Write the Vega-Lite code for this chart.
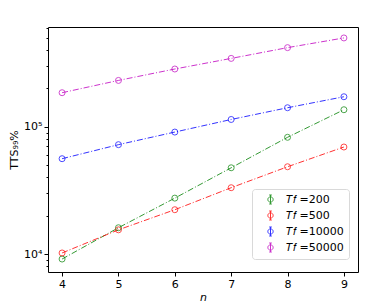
{
  "$schema": "https://vega.github.io/schema/vega-lite/v6.json",
  "width": 310,
  "height": 245,
  "autosize": {"type": "none"},
  "padding": {"left": 48, "top": 27, "right": 25, "bottom": 32},
  "background": "white",
  "config": {
    "font": "DejaVu Sans",
    "view": {"stroke": "#000", "strokeWidth": 1},
    "axis": {"domain": false, "grid": false, "tickColor": "#000", "labelColor": "#000", "titleColor": "#000", "labelFontSize": 11, "titleFontSize": 11, "titleFontWeight": "normal"}
  },
  "data": {
    "values": [
      {"n": 4, "Tf": 200, "tts": 9140}, {"n": 5, "Tf": 200, "tts": 16100}, {"n": 6, "Tf": 200, "tts": 27500}, {"n": 7, "Tf": 200, "tts": 47600}, {"n": 8, "Tf": 200, "tts": 82600}, {"n": 9, "Tf": 200, "tts": 136000},
      {"n": 4, "Tf": 500, "tts": 10200}, {"n": 5, "Tf": 500, "tts": 15500}, {"n": 6, "Tf": 500, "tts": 22300}, {"n": 7, "Tf": 500, "tts": 33200}, {"n": 8, "Tf": 500, "tts": 48500}, {"n": 9, "Tf": 500, "tts": 69300},
      {"n": 4, "Tf": 10000, "tts": 56100}, {"n": 5, "Tf": 10000, "tts": 72300}, {"n": 6, "Tf": 10000, "tts": 90800}, {"n": 7, "Tf": 10000, "tts": 114000}, {"n": 8, "Tf": 10000, "tts": 141000}, {"n": 9, "Tf": 10000, "tts": 172000},
      {"n": 4, "Tf": 50000, "tts": 185000}, {"n": 5, "Tf": 50000, "tts": 231000}, {"n": 6, "Tf": 50000, "tts": 284000}, {"n": 7, "Tf": 50000, "tts": 344000}, {"n": 8, "Tf": 50000, "tts": 418000}, {"n": 9, "Tf": 50000, "tts": 498000}
    ]
  },
  "encoding": {
    "x": {"field": "n", "type": "quantitative", "scale": {"domain": [3.75, 9.25], "nice": false, "zero": false},
      "axis": {"values": [4, 5, 6, 7, 8, 9], "tickSize": 4, "labelPadding": 2, "title": "n", "titleFontStyle": "italic", "titlePadding": 2}},
    "y": {"field": "tts", "type": "quantitative", "scale": {"type": "log", "domain": [7230, 607000], "nice": false},
      "axis": {"values": [8000, 9000, 10000, 20000, 30000, 40000, 50000, 60000, 70000, 80000, 90000, 100000, 200000, 300000, 400000, 500000, 600000],
        "labelExpr": "datum.value == 10000 ? '10⁴' : datum.value == 100000 ? '10⁵' : ''",
        "tickSize": {"condition": {"test": "datum.value == 10000 || datum.value == 100000", "value": 4}, "value": 2},
        "labelPadding": 2, "title": "TTS₉₉%", "titlePadding": 4}},
    "color": {"field": "Tf", "type": "nominal",
      "scale": {"domain": [200, 500, 10000, 50000], "range": ["#008000", "#ff0000", "#0000ff", "#bf00bf"]},
      "legend": {"orient": "none", "legendX": 204, "legendY": 162, "title": null,
        "labelExpr": "'𝑇𝑓 =' + datum.label", "labelFontSize": 11, "labelColor": "#000", "labelLimit": 200,
        "symbolType": "M-1,0 A1,1 0 1,1 1,0 A1,1 0 1,1 -1,0 M0,-1.7 L0,1.7 M-0.5,-1.7 L0.5,-1.7 M-0.5,1.7 L0.5,1.7",
        "symbolFillColor": "transparent", "symbolStrokeWidth": 1, "symbolSize": 28, "symbolOffset": 8,
        "labelOffset": 10, "rowPadding": 3, "padding": 5, "strokeColor": "#d9d9d9", "fillColor": "white", "cornerRadius": 3}}
  },
  "layer": [
    {"mark": {"type": "line", "strokeWidth": 1, "strokeDash": [6, 2, 1, 2], "opacity": 0.8}},
    {"mark": {"type": "point", "shape": "circle", "filled": false, "size": 36, "strokeWidth": 1}}
  ]
}
